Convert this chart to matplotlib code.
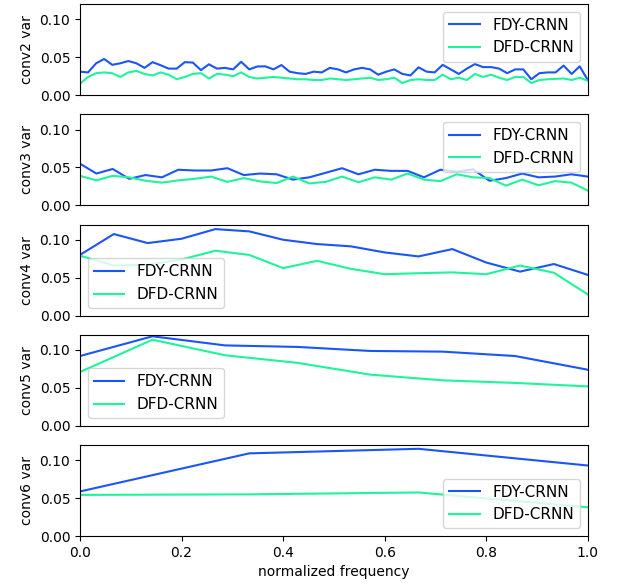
import numpy as np
import matplotlib
matplotlib.use("Agg")
import matplotlib.pyplot as plt

labels = ["FDY-CRNN", "DFD-CRNN"]
layer_names = ["conv2 var", "conv3 var", "conv4 var", "conv5 var", "conv6 var"]

conv2_fdy = [0.031, 0.030, 0.042, 0.0477, 0.040, 0.042, 0.045, 0.042, 0.036, 0.0435,
             0.0395, 0.035, 0.035, 0.0435, 0.043, 0.033, 0.0407, 0.035, 0.036, 0.034,
             0.044, 0.034, 0.0378, 0.038, 0.034, 0.0397, 0.031, 0.029, 0.028, 0.031,
             0.030, 0.036, 0.034, 0.030, 0.034, 0.036, 0.034, 0.027, 0.031, 0.034,
             0.028, 0.026, 0.0367, 0.031, 0.030, 0.040, 0.034, 0.028, 0.035, 0.041,
             0.037, 0.037, 0.035, 0.029, 0.034, 0.034, 0.021, 0.029, 0.030, 0.030,
             0.039, 0.028, 0.038, 0.020]
conv2_dfd = [0.015, 0.024, 0.029, 0.030, 0.029, 0.024, 0.030, 0.032, 0.028, 0.026,
             0.030, 0.027, 0.021, 0.024, 0.028, 0.029, 0.022, 0.028, 0.027, 0.025,
             0.030, 0.024, 0.022, 0.023, 0.024, 0.023, 0.022, 0.021, 0.021, 0.020,
             0.020, 0.022, 0.021, 0.020, 0.021, 0.022, 0.023, 0.020, 0.021, 0.023,
             0.016, 0.020, 0.021, 0.020, 0.020, 0.027, 0.021, 0.023, 0.020, 0.028,
             0.024, 0.027, 0.023, 0.020, 0.024, 0.024, 0.016, 0.020, 0.021, 0.0215,
             0.022, 0.020, 0.023, 0.019]

conv3_fdy = [0.055, 0.042, 0.048, 0.035, 0.040, 0.037, 0.047, 0.046, 0.046, 0.049,
             0.040, 0.042, 0.041, 0.034, 0.037, 0.043, 0.049, 0.041, 0.047, 0.0455,
             0.0455, 0.037, 0.047, 0.0445, 0.0475, 0.0325, 0.036, 0.042, 0.037, 0.038,
             0.041, 0.038]
conv3_dfd = [0.039, 0.033, 0.039, 0.037, 0.0325, 0.030, 0.033, 0.035, 0.038, 0.031,
             0.036, 0.0316, 0.0295, 0.038, 0.029, 0.031, 0.038, 0.0305, 0.037, 0.034,
             0.042, 0.034, 0.032, 0.041, 0.037, 0.036, 0.026, 0.034, 0.0265, 0.032,
             0.030, 0.0195]

conv4_fdy = [0.080, 0.1075, 0.0956, 0.1013, 0.114, 0.111, 0.100, 0.0943, 0.0913, 0.0833,
             0.078, 0.0877, 0.070, 0.058, 0.068, 0.0537]
conv4_dfd = [0.079, 0.066, 0.067, 0.074, 0.0855, 0.080, 0.0626, 0.0722, 0.0617, 0.0546,
             0.0559, 0.057, 0.0546, 0.066, 0.0565, 0.028]

conv5_fdy = [0.092, 0.118, 0.106, 0.104, 0.0987, 0.0978, 0.092, 0.074]
conv5_dfd = [0.071, 0.1135, 0.093, 0.083, 0.0675, 0.060, 0.0566, 0.052]

conv6_fdy = [0.0588, 0.109, 0.115, 0.093]
conv6_dfd = [0.0543, 0.055, 0.0575, 0.038]

series = [(conv2_fdy, conv2_dfd), (conv3_fdy, conv3_dfd), (conv4_fdy, conv4_dfd),
          (conv5_fdy, conv5_dfd), (conv6_fdy, conv6_dfd)]
legend_locs = ["upper right", "upper right", "lower left", "lower left", "lower right"]
colors = ["#1a55f8", "#1ef59a"]

fig, axes = plt.subplots(5, 1, figsize=(6.2, 5.84), dpi=100)
fig.subplots_adjust(left=0.129, right=0.948, top=0.993, bottom=0.082, hspace=0.21)

for i, (ax, (fdy, dfd)) in enumerate(zip(axes, series)):
    x1 = np.linspace(0, 1, len(fdy))
    x2 = np.linspace(0, 1, len(dfd))
    ax.plot(x1, fdy, color=colors[0], label=labels[0])
    ax.plot(x2, dfd, color=colors[1], label=labels[1])
    ax.set_xlim(0, 1)
    ax.set_ylim(0, 0.12)
    ax.set_yticks([0.0, 0.05, 0.10])
    ax.set_ylabel(layer_names[i])
    ax.legend(loc=legend_locs[i], fontsize=11)
    if i < 4:
        ax.set_xticks([])
    else:
        ax.set_xlabel("normalized frequency")

fig.savefig("out.png", dpi=100)
